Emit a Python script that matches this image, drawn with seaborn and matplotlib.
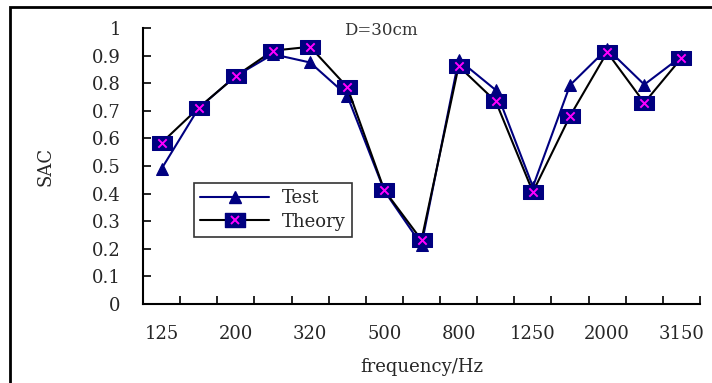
import matplotlib
matplotlib.use('Agg')
import matplotlib.pyplot as plt
import seaborn as sns
import pandas as pd
import numpy as np
from matplotlib.path import Path
from matplotlib.lines import Line2D
from matplotlib.patches import Rectangle

sns.set_theme(style="white")
plt.rcParams['font.family'] = ['DejaVu Serif']

# 1/3 octave band centre frequencies
freqs = ['125', '160', '200', '250', '320', '400', '500', '630',
         '800', '1000', '1250', '1600', '2000', '2500', '3150']
test = [0.49, 0.71, 0.826, 0.905, 0.875, 0.755, 0.41, 0.214,
        0.885, 0.775, 0.425, 0.793, 0.925, 0.795, 0.897]
theory = [0.584, 0.711, 0.826, 0.918, 0.932, 0.786, 0.412, 0.232,
          0.862, 0.734, 0.406, 0.681, 0.912, 0.729, 0.891]
shown_labels = ['125', '200', '320', '500', '800', '1250', '2000', '3150']

df = pd.DataFrame({'pos': np.arange(len(freqs)), 'freq': freqs,
                   'Test': test, 'Theory': theory})

navy = '#000080'
rect_marker = Path([(-1, -0.7), (1, -0.7), (1, 0.7), (-1, 0.7), (-1, -0.7)],
                   [Path.MOVETO, Path.LINETO, Path.LINETO, Path.LINETO, Path.CLOSEPOLY])

fig = plt.figure(figsize=(7.12, 3.83), dpi=100)
ax = fig.add_axes([143 / 712, 79 / 383, 557 / 712, 276 / 383])

sns.lineplot(data=df, x='pos', y='Test', ax=ax, color=navy, lw=1.5,
             marker='^', markersize=8.5, markerfacecolor=navy,
             markeredgecolor=navy)
sns.lineplot(data=df, x='pos', y='Theory', ax=ax, color='black', lw=1.5,
             marker=rect_marker, markersize=14.5, markerfacecolor=navy,
             markeredgecolor=navy)
sns.scatterplot(data=df, x='pos', y='Theory', ax=ax, marker='x',
                color='#FF00FF', s=36, linewidth=1.4, zorder=5)

ax.set_xlim(-0.5, len(freqs) - 0.5)
ax.set_ylim(0, 1)

# tick marks between categories, labels on every other category
ax.set_xticks(np.arange(-0.5, len(freqs), 1.0))
ax.set_xticklabels([])
ax.set_xticks(np.arange(0, len(freqs), 2), minor=True)
ax.set_xticklabels(shown_labels, minor=True)
ax.tick_params(axis='x', which='major', direction='in', length=6, width=1.2,
               color='black', bottom=True)
ax.tick_params(axis='x', which='minor', length=0, pad=15, labelsize=13,
               bottom=True)

yt = np.round(np.arange(0, 1.01, 0.1), 1)
ax.set_yticks(yt)
ax.set_yticklabels(['0'] + [f'{v:.1f}' for v in yt[1:-1]] + ['1'])
ax.tick_params(axis='y', direction='in', length=6, width=1.2, color='black',
               left=True, pad=16, labelsize=13)

for s in ['top', 'right']:
    ax.spines[s].set_visible(False)
for s in ['left', 'bottom']:
    ax.spines[s].set_color('black')
    ax.spines[s].set_linewidth(1.5)

ax.set_xlabel('frequency/Hz', fontsize=13, labelpad=11)
ax.set_ylabel('SAC', fontsize=13, labelpad=27)
ax.text(0.361, 0.99, 'D=30cm', transform=ax.transAxes, fontsize=12,
        va='center', ha='left', color='#333333')

h_test = Line2D([], [], color=navy, lw=1.5, marker='^', markersize=8.5,
                markerfacecolor=navy, markeredgecolor=navy)
h_theory = Line2D([], [], color='black', lw=1.5, marker=rect_marker,
                  markersize=14.5, markerfacecolor=navy, markeredgecolor=navy)
h_x = Line2D([], [], ls='none', marker='x', markersize=6, color='#FF00FF',
             markeredgewidth=1.4)
leg = ax.legend([h_test, (h_theory, h_x)], ['Test', 'Theory'],
                loc='upper left', bbox_to_anchor=(51 / 557, 121 / 276),
                fontsize=13, frameon=True, fancybox=False, handlelength=3.8,
                borderpad=0.35, labelspacing=0.3, handletextpad=0.7,
                borderaxespad=0)
leg.get_frame().set_edgecolor('black')
leg.get_frame().set_linewidth(1.2)

# outer chart border
fig.add_artist(Rectangle((10 / 712, -0.1), 1.2, (383 - 7) / 383 + 0.1,
                         transform=fig.transFigure, fill=False,
                         edgecolor='black', lw=2))

fig.savefig('out.png', dpi=100, facecolor='white')
